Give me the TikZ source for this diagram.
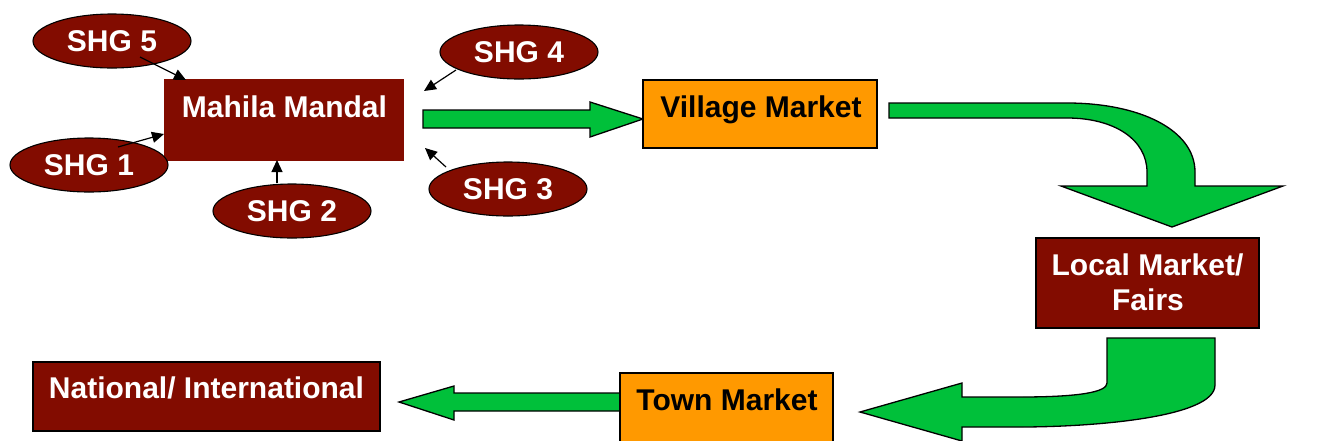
\documentclass[tikz,border=0pt]{standalone}
\usepackage{fontspec}
\setmainfont{Liberation Sans}
\usetikzlibrary{arrows.meta,shapes.geometric}
\definecolor{mroon}{RGB}{130,12,0}
\definecolor{mktorange}{RGB}{255,153,0}
\definecolor{flowgreen}{RGB}{0,192,58}
\tikzset{
  bigfont/.style={font=\fontsize{30}{35}\selectfont\bfseries},
  shg/.style={ellipse, fill=mroon, draw=black, line width=1.1pt, inner sep=0pt,
              minimum width=158, minimum height=54, text=white, bigfont},
  darkbox/.style={rectangle, fill=mroon, draw=black, line width=1.1pt, inner sep=0pt},
  orangebox/.style={rectangle, fill=mktorange, draw=black, line width=1.1pt, inner sep=0pt},
  whitetext/.style={text=white, bigfont, anchor=base, inner sep=0pt},
  blacktext/.style={text=black, bigfont, anchor=base, inner sep=0pt},
  feed/.style={draw=black, line width=1.2pt, -{Triangle[length=12pt,width=11pt]}},
  flow/.style={fill=flowgreen, draw=black, line width=1.3pt, line join=miter},
}
\begin{document}
\begin{tikzpicture}[x=1pt,y=-1pt]
\useasboundingbox (0,0) rectangle (1318,440);
\clip (0,0) rectangle (1318,440);

% Green flow arrows (drawn first, boxes sit over their ends)
\path[flow] (423,110) -- (590,110) -- (590,102) -- (643,119) -- (590,137)
  -- (590,128) -- (423,128) -- cycle;
\path[flow] (889,103) -- (1067,103) .. controls (1140,103) and (1195,130) .. (1195,172)
  -- (1195,186) -- (1283,186) -- (1172,227) -- (1061,186) -- (1147,186) -- (1147,172)
  .. controls (1147,140) and (1115,118) .. (1067,118) -- (889,118) -- cycle;
\path[flow] (1107,338) -- (1215,338) -- (1215,385) .. controls (1215,418) and (1090,427) .. (1020,427)
  -- (962,427) -- (962,441) -- (860,412) -- (962,383) -- (962,397) -- (1020,397)
  .. controls (1080,397) and (1107,392) .. (1107,383) -- cycle;
\path[flow] (625,393) -- (454,393) -- (454,386) -- (399,402) -- (454,420) -- (454,411)
  -- (625,411) -- cycle;

% Boxes
\node[darkbox, draw=mroon, minimum width=238, minimum height=80] (mm) at (284,120) {};
\node[whitetext] (mmtext) at (284.5,117) {Mahila Mandal};

\node[orangebox, minimum width=234, minimum height=68] (vm) at (760,114) {};
\node[blacktext] (vmtext) at (761,117) {Village Market};

\node[darkbox, minimum width=223, minimum height=90] (lm) at (1147.5,283) {};
\node[whitetext] (lmtexta) at (1147.5,275) {Local Market/};
\node[whitetext] (lmtextb) at (1148,310) {Fairs};

\node[orangebox, minimum width=213, minimum height=87] (tm) at (726.5,416.5) {};
\node[blacktext] (tmtext) at (727,410) {Town Market};

\node[darkbox, minimum width=347, minimum height=69] (ni) at (206.5,396.5) {};
\node[whitetext] (nitext) at (206.5,398) {National/ International};

% Self-help groups
\node[shg] (shg5) at (112,41) {SHG 5};
\node[shg] (shg1) at (89,165) {SHG 1};
\node[shg] (shg2) at (292,211) {SHG 2};
\node[shg] (shg4) at (519,52) {SHG 4};
\node[shg] (shg3) at (508,189) {SHG 3};

% Feeder arrows into the Mahila Mandal
\coordinate (s5) at (140,57);  \coordinate (e5) at (186,80);
\coordinate (s1) at (118,147); \coordinate (e1) at (164,134);
\coordinate (s2) at (277,183); \coordinate (e2) at (277,160);
\coordinate (s4) at (456,70);  \coordinate (e4) at (424,91);
\coordinate (s3) at (446,167); \coordinate (e3) at (425,148);
\draw[feed] (s5) -- (e5);
\draw[feed] (s1) -- (e1);
\draw[feed] (s2) -- (e2);
\draw[feed] (s4) -- (e4);
\draw[feed] (s3) -- (e3);
\end{tikzpicture}
\end{document}
